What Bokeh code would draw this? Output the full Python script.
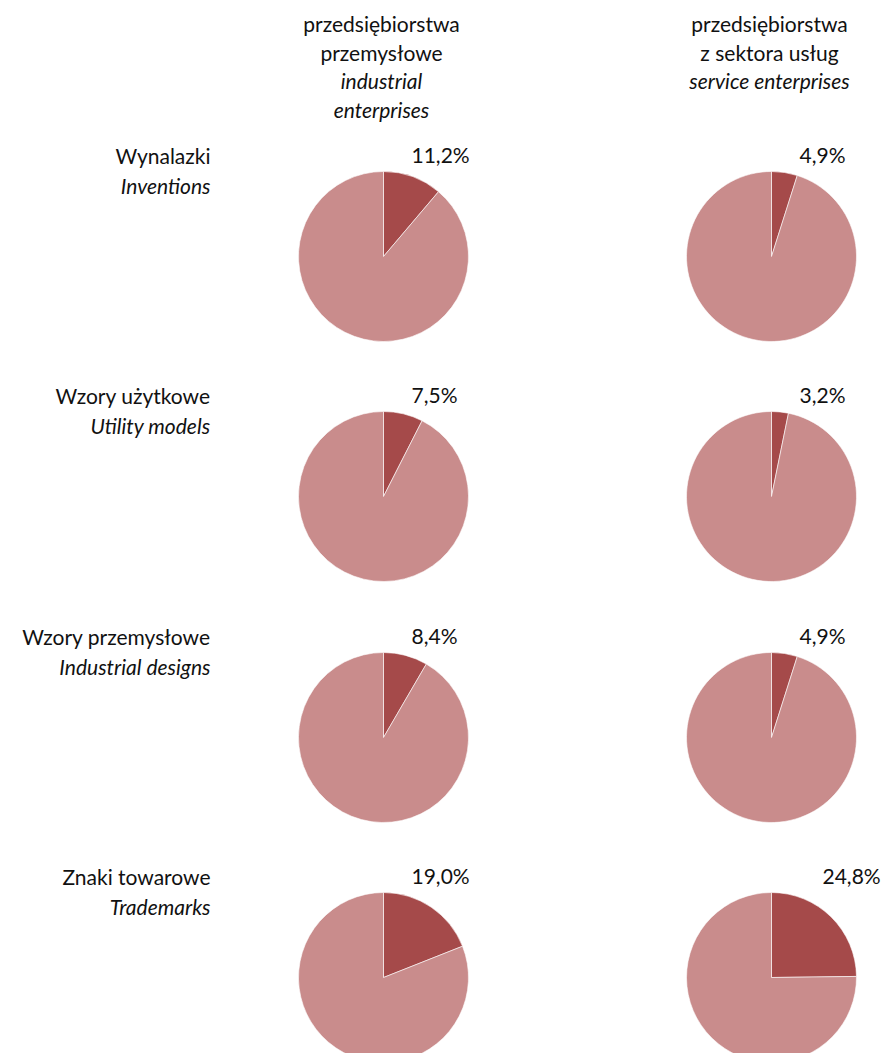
import math
from bokeh.plotting import figure
from bokeh.models import Range1d, ColumnDataSource
from bokeh.core.properties import value
from bokeh.embed import file_html
from bokeh.resources import INLINE

# ---- data ----
columns_pl = ["przedsiębiorstwa\nprzemysłowe", "przedsiębiorstwa\nz sektora usług"]
columns_en = ["industrial\nenterprises", "service enterprises"]
rows_pl = ["Wynalazki", "Wzory użytkowe", "Wzory przemysłowe", "Znaki towarowe"]
rows_en = ["Inventions", "Utility models", "Industrial designs", "Trademarks"]
industrial = [11.2, 7.5, 8.4, 19.0]
services = [4.9, 3.2, 4.9, 24.8]

DARK = "#A54A4A"
LIGHT = "#C98C8C"
FONT = "Lato"
FS = "21px"
TC = "#111111"

W, H = 883, 1053
p = figure(width=W, height=H, output_backend="svg", toolbar_location=None,
           x_range=Range1d(0, W), y_range=Range1d(0, H), min_border=0,
           outline_line_color=None)
p.axis.visible = False
p.grid.visible = False

def Y(sy):  # pixel from top -> data y
    return H - sy

col_x = [383, 771]
row_y = [256, 496, 737, 977]
R = 85

wedges = dict(x=[], y=[], s=[], e=[], c=[])
labels = dict(x=[], y=[], t=[])
for ci, vals in enumerate([industrial, services]):
    for ri, v in enumerate(vals):
        cx, cy = col_x[ci], Y(row_y[ri])
        f = v / 100.0
        a0 = math.pi / 2 - 2 * math.pi * f
        a1 = math.pi / 2
        wedges["x"] += [cx, cx]
        wedges["y"] += [cy, cy]
        wedges["s"] += [a0, a1]
        wedges["e"] += [a1, a0 + 2 * math.pi]
        wedges["c"] += [DARK, LIGHT]
        mid = math.pi * f
        off = R * math.sin(mid) if mid > math.radians(40) else 28
        labels["x"].append(min(cx + off, W - 61))
        labels["y"].append(cy + R + 5)
        labels["t"].append(("%.1f%%" % v).replace(".", ","))

p.wedge(x="x", y="y", radius=R, radius_units="screen", start_angle="s", end_angle="e",
        fill_color="c", line_color="white", line_width=0.6, source=ColumnDataSource(wedges))

p.text(x="x", y="y", text="t", source=ColumnDataSource(labels), text_font=value(FONT),
       text_font_size=FS, text_align="left", text_baseline="bottom", text_color=TC)

# column headers
hdr_lines = []
for ci in range(2):
    pl = columns_pl[ci].split("\n")
    en = columns_en[ci].split("\n")
    for li, t in enumerate(pl + en):
        hdr_lines.append((col_x[ci] - 2, Y(23 + 28.5 * li), t, "normal" if li < len(pl) else "italic"))
for st in ["normal", "italic"]:
    sel = [h for h in hdr_lines if h[3] == st]
    p.text(x=[h[0] for h in sel], y=[h[1] for h in sel], text=[h[2] for h in sel],
           text_font=value(FONT), text_font_size=FS, text_font_style=st,
           text_align="center", text_baseline="middle", text_color=TC)

# row labels
p.text(x=[210] * 4, y=[Y(r - 101) for r in row_y], text=rows_pl, text_font=value(FONT),
       text_font_size=FS, text_align="right", text_baseline="middle", text_color=TC)
p.text(x=[210] * 4, y=[Y(r - 71) for r in row_y], text=rows_en, text_font=value(FONT),
       text_font_size=FS, text_font_style="italic", text_align="right", text_baseline="middle",
       text_color=TC)

open("out.html", "w").write(file_html(p, INLINE))
